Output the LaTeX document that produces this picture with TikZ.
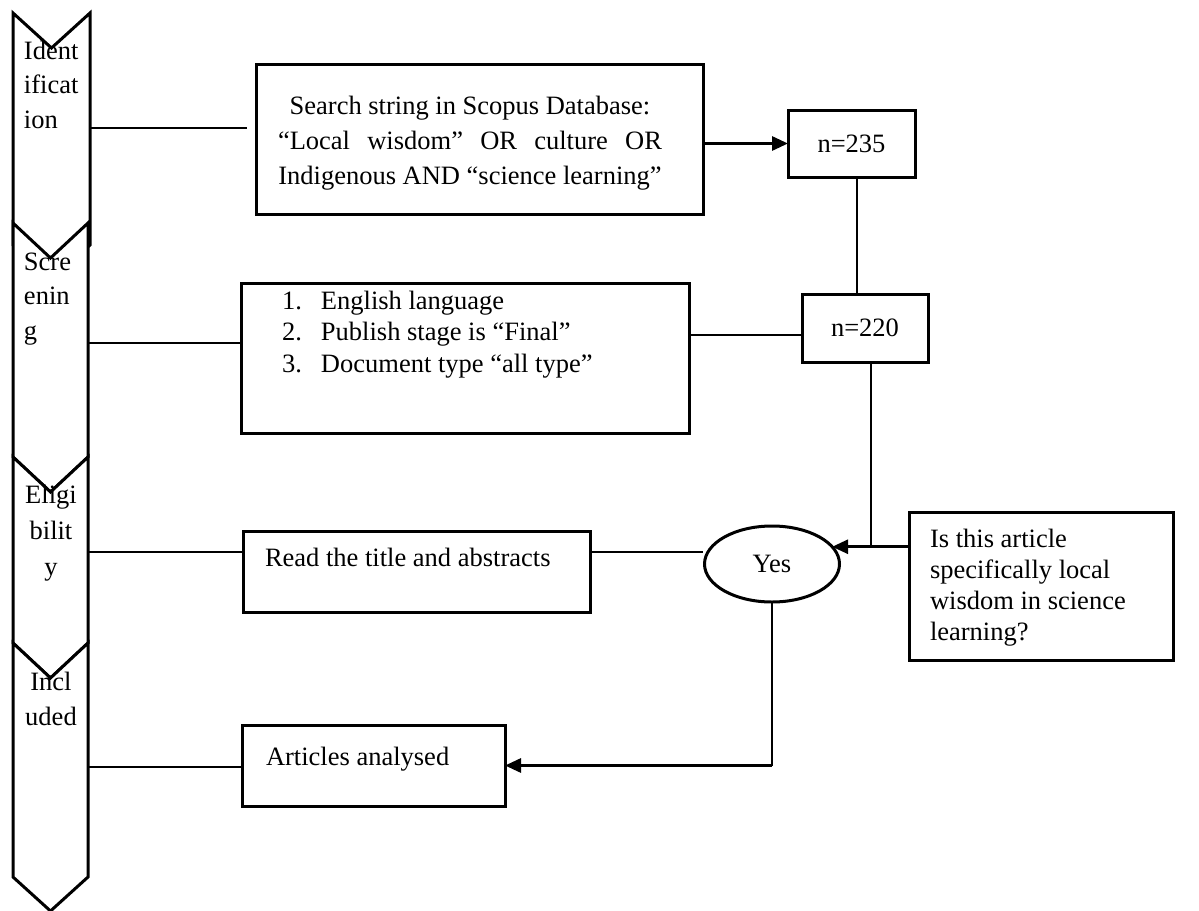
\documentclass[tikz,border=0pt]{standalone}
\usepackage{fontspec}
\setmainfont{Liberation Serif}
\usetikzlibrary{shapes.geometric,arrows.meta}

\begin{document}
\begin{tikzpicture}[x=0.5pt,y=-0.5pt,
  every node/.style={font=\fontsize{13.25pt}{17pt}\selectfont},
  chev/.style={draw, fill=white, line width=1.5pt, line join=miter},
  box/.style={draw, line width=1.5pt, rectangle, inner sep=0pt, outer sep=0pt, anchor=north west},
  oval/.style={draw, line width=1.5pt, ellipse, inner sep=0pt, outer sep=0pt},
  txt/.style={inner sep=0pt, outer sep=0pt, anchor=base west},
  conn/.style={line width=0.75pt},
  arr/.style={line width=1.5pt, -{Triangle[length=8pt,width=7pt]}}
]
\useasboundingbox (0,0) rectangle (1199,910);

% stage chevrons, each one overlapping the point of the one above
\draw[chev] (13,13) -- (51.5,48) -- (90,13) -- (90,245) -- (51.5,280) -- (13,245) -- cycle;
\node[txt] (ident) at (24,59) {\parbox[t]{40pt}{\fontsize{13.25pt}{17.25pt}\selectfont\raggedright Ident\\ificat\\ion}};
\draw[chev] (13,223) -- (50.5,258) -- (88,223) -- (88,457) -- (50.5,492) -- (13,457) -- cycle;
\node[txt] (screen) at (24,270) {\parbox[t]{40pt}{\fontsize{13.25pt}{17.25pt}\selectfont\raggedright Scre\\enin\\g}};
\draw[chev] (13,457) -- (50.5,492) -- (88,457) -- (88,643) -- (50.5,678) -- (13,643) -- cycle;
\node[txt, anchor=base] (elig) at (51,503) {\parbox[t]{35pt}{\fontsize{13.25pt}{18pt}\selectfont\centering Eligi\\bilit\\y}};
\draw[chev] (13,643) -- (50.5,678) -- (88,643) -- (88,877) -- (50.5,911) -- (13,877) -- cycle;
\node[txt, anchor=base] (incl) at (51,690) {\parbox[t]{35pt}{\fontsize{13.25pt}{17.5pt}\selectfont\centering Incl\\uded}};

\coordinate (c1) at (90,128);
\coordinate (c2) at (88,343);
\coordinate (c3) at (88,552);
\coordinate (c4) at (88,767);

% process boxes
\node[box, minimum width=223.5pt, minimum height=75pt] (search) at (256,64) {};
\node[txt] (searchtxt) at (278,114) {\parbox[t]{192pt}{\fontsize{13.25pt}{17.5pt}\selectfont\centering
  Search string in Scopus Database:\\
  \makebox[192pt][s]{“Local wisdom” OR culture OR}\\
  Indigenous AND “science learning”}};

\node[box, minimum width=63.5pt, minimum height=33.5pt] (n235) at (788,110) {};
\node at (n235.center) {n=235};

\node[box, minimum width=224pt, minimum height=75pt] (crit) at (241,283) {};
\node[txt] (crittxt) at (282,309) {\parbox[t]{200pt}{\fontsize{13.25pt}{15.75pt}\selectfont\raggedright
  \makebox[19.5pt][l]{1.}English language\\
  \makebox[19.5pt][l]{2.}Publish stage is “Final”\\
  \makebox[19.5pt][l]{3.}Document type “all type”}};

\node[box, minimum width=63pt, minimum height=34pt] (n220) at (802,294) {};
\node at (n220.center) {n=220};

\node[box, minimum width=173.5pt, minimum height=40.5pt] (read) at (243,531) {};
\node[txt] (readtxt) at (265,566) {Read the title and abstracts};

\node[oval, minimum width=67.5pt, minimum height=38pt] (yes) at (772,564) {Yes};

\node[box, minimum width=132pt, minimum height=74pt] (quest) at (909,512) {};
\node[txt] (questtxt) at (930,547) {\parbox[t]{125pt}{\fontsize{13.25pt}{15.5pt}\selectfont\raggedright
  Is this article\\specifically local\\wisdom in science\\learning?}};

\node[box, minimum width=131.5pt, minimum height=40.5pt] (articles) at (242,725) {};
\node[txt] (arttxt) at (266,765) {Articles analysed};

% stage links
\draw[conn, shorten >=4.5pt] (c1) -- (c1 -| search.west);
\draw[conn] (c2) -- (c2 -| crit.west);
\draw[conn] (c3) -- (c3 -| read.west);
\draw[conn] (c4) -- (c4 -| articles.west);

% flow connectors
\coordinate (vx1) at (857,0);
\coordinate (vx2) at (871,0);
\coordinate (hy1) at (0,335);
\coordinate (yl) at (703,552);
\draw[arr] (search.east |- n235.west) -- (n235.west);
\draw[conn] (n235.south -| vx1) -- (n220.north -| vx1);
\draw[conn] (crit.east |- hy1) -- (n220.west |- hy1);
\draw[conn] (n220.south -| vx2) -- (vx2 |- yes.16);
\draw[arr] (quest.west |- yes.16) -- (yes.16);
\draw[conn] (read.east |- yl) -- (yl);
\draw[conn] (yes.south) -- (yes.south |- articles.east);
\draw[arr] (yes.south |- articles.east) -- (articles.east);
\end{tikzpicture}
\end{document}
